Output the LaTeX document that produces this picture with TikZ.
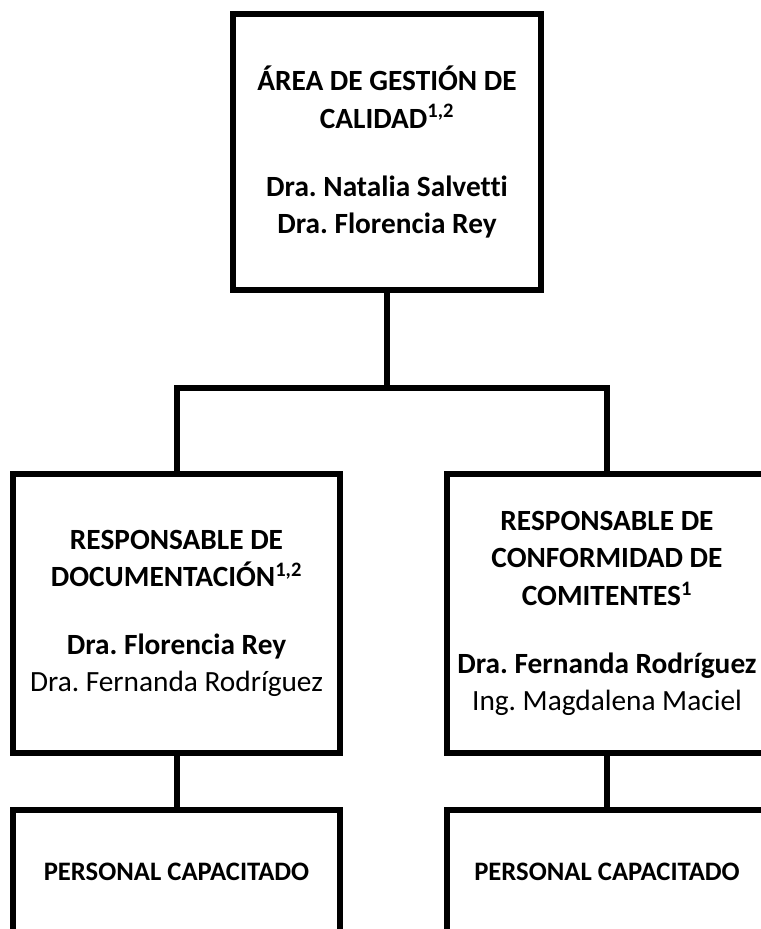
\documentclass[tikz,border=0pt]{standalone}
\usepackage{fontspec}
\setmainfont{Carlito}[Ligatures=NoCommon]
\frenchspacing

\begin{document}
\begin{tikzpicture}[x=0.75pt,y=-0.75pt,
  box/.style={draw, line width=4.5pt, align=center, inner sep=0pt,
    font=\fontsize{22}{28}\selectfont},
  link/.style={line width=4.5pt}]

\path[use as bounding box, clip] (0,0) rectangle (761,929);

\node[box, minimum width=231pt, minimum height=207pt] (area) at (387,152)
  {\textbf{ÁREA DE GESTIÓN DE}\\ \textbf{CALIDAD\textsuperscript{1,2}}\\[23pt]
   \textbf{Dra. Natalia Salvetti}\\ \textbf{Dra. Florencia Rey}};

\node[box, minimum width=245pt, minimum height=209pt] (doc) at (176.5,613.5)
  {\textbf{RESPONSABLE DE}\\ \textbf{DOCUMENTACIÓN\textsuperscript{1,2}}\\[23pt]
   \textbf{Dra. Florencia Rey}\\ Dra. Fernanda Rodríguez};
\node[box, minimum width=240pt, minimum height=209pt] (conf) at (607,613.5)
  {\textbf{RESPONSABLE DE}\\ \textbf{CONFORMIDAD DE}\\ \textbf{COMITENTES\textsuperscript{1}}\\[23pt]
   \textbf{Dra. Fernanda Rodríguez}\\ Ing. Magdalena Maciel};

\node[box, minimum width=245pt, minimum height=93pt, font=\fontsize{20}{24}\selectfont] (pers1) at (176.5,872)
  {\textbf{PERSONAL CAPACITADO}};
\node[box, minimum width=240pt, minimum height=93pt, font=\fontsize{20}{24}\selectfont] (pers2) at (607,872)
  {\textbf{PERSONAL CAPACITADO}};

\draw[link] (area.south) -- ++(0,95) coordinate (cruce);
\draw[link] (doc.north) |- (cruce) -| (conf.north);
\draw[link] (doc.south) -- (pers1.north);
\draw[link] (conf.south) -- (pers2.north);

\end{tikzpicture}
\end{document}
